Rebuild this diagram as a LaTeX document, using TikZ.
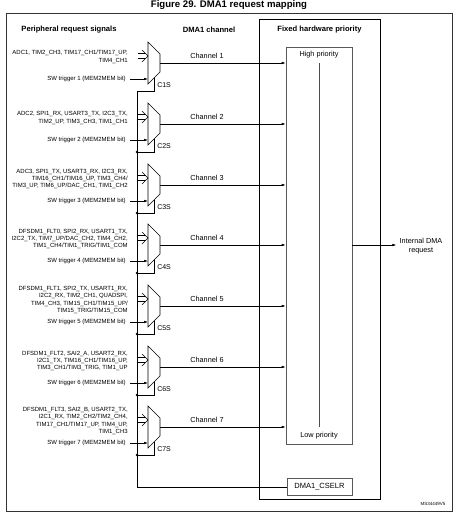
\documentclass[tikz,border=0pt]{standalone}
\usepackage{fontspec}
\setmainfont{Liberation Sans}
\usetikzlibrary{arrows.meta}
\begin{document}
\begin{tikzpicture}[x=1pt,y=-1pt,line width=0.6pt,
  sml/.style={font=\fontsize{6}{7.3}\selectfont,align=right,inner sep=0pt},
  chl/.style={font=\fontsize{7.3}{8.5}\selectfont,inner sep=0pt},
  hdr/.style={font=\bfseries\fontsize{7.6}{9}\selectfont,inner sep=0pt},
  lbl/.style={font=\fontsize{7}{8}\selectfont,inner sep=0pt},
  arr/.style={-{Latex[length=4pt,width=2.6pt]}},
  boxg/.style={draw=black!65,inner sep=0pt}]
\useasboundingbox (0,0) rectangle (456,512);
% title and frame
\node[font=\bfseries\fontsize{9.6}{11}\selectfont,inner sep=0pt] (title) at (229,5.5) {Figure 29. DMA1 request mapping};
\draw[line width=0.8pt,black!80] (6,13) rectangle (452,511);
\node[hdr] (h1) at (69,30) {Peripheral request signals};
\node[hdr] (h2) at (209,30) {DMA1 channel};
\node[hdr] (h3) at (319.5,30) {Fixed hardware priority};
% fixed priority boxes
\node[draw,line width=0.7pt,minimum width=121pt,minimum height=479.5pt,inner sep=0pt] (fixed) at (319.5,259.25) {};
\node[boxg,minimum width=66pt,minimum height=397pt] (prio) at (319,245.5) {};
\node[chl] (hp) at (319,55) {High priority};
\node[chl] (lp) at (319,436) {Low priority};
\coordinate (pt) at (319,63);
\coordinate (pb) at (319,427);
\draw[black!70] (pt) -- (pb);
\node[boxg,minimum width=65pt,minimum height=17pt,font=\fontsize{7.5}{9}\selectfont] (cselr) at (319.5,486.5) {DMA1\_CSELR};
% internal DMA request
\node[chl,align=center] (intreq) at (421,246) {Internal DMA\\request};
% channels
\foreach \i/\y in {1/63,2/124,3/185,4/245,5/306,6/367,7/427} {
  \draw (148,\y-21) -- (160,\y-9) -- (160,\y+9) -- (148,\y+21) -- cycle;
  \coordinate (mo\i) at (160,\y);
  \coordinate (sw\i) at (148,\y+16);
  \coordinate (swa\i) at (130,\y+16);
  \coordinate (sel\i) at (154,\y+15);
  \coordinate (bus\i) at (137,\y+28);
  \node[lbl,anchor=west] (cs\i) at (157,\y+22) {C\i S};
  \node[chl] (chn\i) at (207,\y-7) {Channel \i};
  \draw[arr] (mo\i) -- (prio.west |- mo\i);
  \draw (sel\i) |- (bus\i);
  \node[sml,anchor=east] (swt\i) at (126,\y+16) {SW trigger \i\ (MEM2MEM bit)};
  \draw[arr] (swa\i) -- (sw\i);
  \draw (138,\y-9.5) -- (145.5,\y-9.5) (138,\y-4.5) -- (145.5,\y-4.5)
        (142,\y-13) -- (148,\y-7) -- (142,\y-1);
}
\foreach \i in {2,...,7} { \fill (bus\i) circle (1.3pt); }
\coordinate (busend) at (137,487);
\draw (bus1) -- (busend) -- (cselr.west |- busend);
\draw[arr] (prio.east |- mo4) -- ([xshift=-3pt]intreq.west |- mo4);
% input signal texts
\node[sml,anchor=east] (in1) at (128,57) {ADC1, TIM2\_CH3, TIM17\_CH1/TIM17\_UP,\\TIM4\_CH1};
\node[sml,anchor=east] (in2) at (128,118) {ADC2, SPI1\_RX, USART3\_TX, I2C3\_TX,\\TIM2\_UP, TIM3\_CH3, TIM1\_CH1};
\node[sml,anchor=east] (in3) at (128,179) {ADC3, SPI1\_TX, USART3\_RX, I2C3\_RX,\\TIM16\_CH1/TIM16\_UP, TIM3\_CH4/\\TIM3\_UP, TIM6\_UP/DAC\_CH1, TIM1\_CH2};
\node[sml,anchor=east] (in4) at (128,239) {DFSDM1\_FLT0, SPI2\_RX, USART1\_TX,\\I2C2\_TX, TIM7\_UP/DAC\_CH2, TIM4\_CH2,\\TIM1\_CH4/TIM1\_TRIG/TIM1\_COM};
\node[sml,anchor=east] (in5) at (128,300) {DFSDM1\_FLT1, SPI2\_TX, USART1\_RX,\\I2C2\_RX, TIM2\_CH1, QUADSPI,\\TIM4\_CH3, TIM15\_CH1/TIM15\_UP/\\TIM15\_TRIG/TIM15\_COM};
\node[sml,anchor=east] (in6) at (128,361) {DFSDM1\_FLT2, SAI2\_A, USART2\_RX,\\I2C1\_TX, TIM16\_CH1/TIM16\_UP,\\TIM3\_CH1/TIM3\_TRIG, TIM1\_UP};
\node[sml,anchor=east] (in7) at (128,421) {DFSDM1\_FLT3, SAI2\_B, USART2\_TX,\\I2C1\_RX, TIM2\_CH2/TIM2\_CH4,\\TIM17\_CH1/TIM17\_UP, TIM4\_UP,\\TIM1\_CH3};
\node[font=\fontsize{4.5}{5}\selectfont,inner sep=0pt] (ms) at (433,504) {MS34449V5};
\end{tikzpicture}
\end{document}
